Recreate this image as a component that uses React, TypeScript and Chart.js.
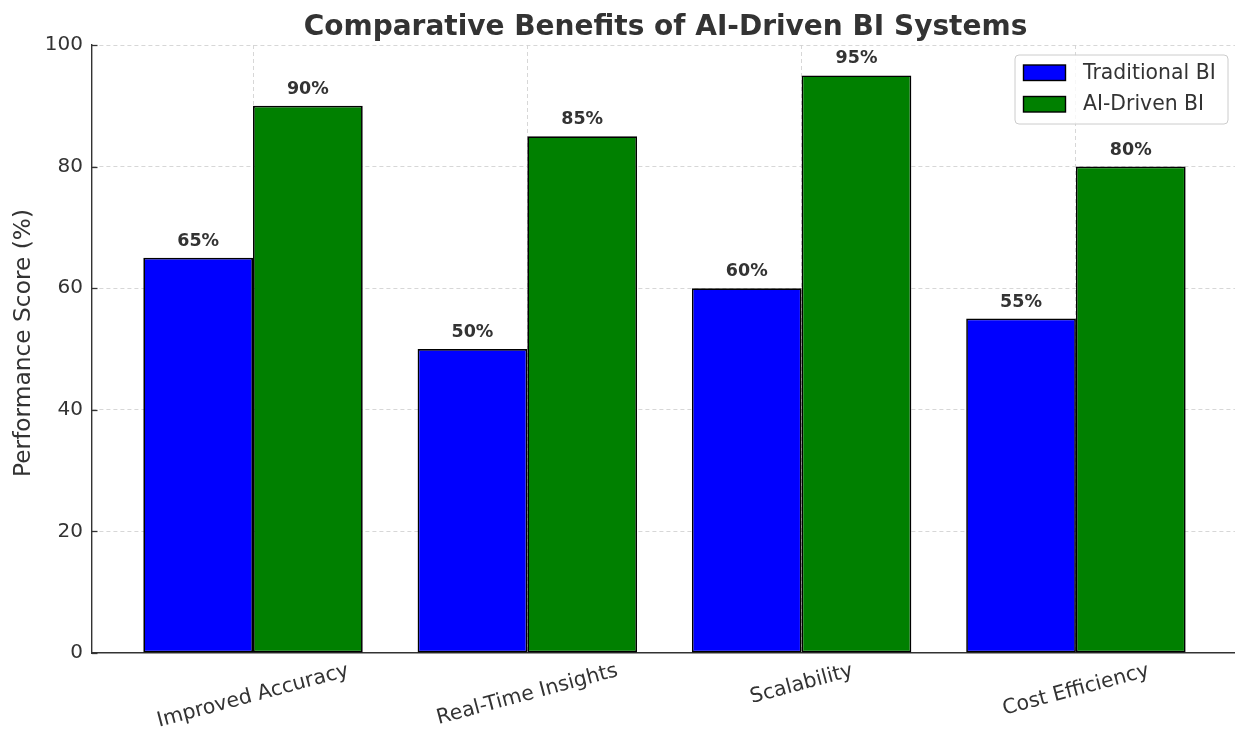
import { useEffect, useRef } from "react";
import { Chart, registerables } from "chart.js";

Chart.register(...registerables);

// Benefit categories and the score of each BI approach (percent)
const categories = ["Improved Accuracy", "Real-Time Insights", "Scalability", "Cost Efficiency"];
const traditionalBI = [65, 50, 60, 55];
const aiDrivenBI = [90, 85, 95, 80];
const yTicks = [0, 20, 40, 60, 80, 100];
const seriesNames = ["Traditional BI", "AI-Driven BI"];
const seriesColors = ["#0000ff", "#008000"];

const chartTitle = "Comparative Benefits of AI-Driven BI Systems";
const yAxisTitle = "Performance Score (%)";

const FONT = "'DejaVu Sans', sans-serif";
const TEXT = "#333333";
const GRID = "#d2d2d2";
const WIDTH = 1235;
const HEIGHT = 729;

const decorations = {
  id: "decorations",
  afterDatasetsDraw(chart: any) {
    const { ctx } = chart;
    ctx.save();
    // value labels above each bar
    ctx.font = `bold 17.5px ${FONT}`;
    ctx.fillStyle = TEXT;
    ctx.textAlign = "center";
    ctx.textBaseline = "alphabetic";
    chart.data.datasets.forEach((ds: any, di: number) => {
      const meta = chart.getDatasetMeta(di);
      meta.data.forEach((el: any, i: number) => {
        const v = ds.data[i].y;
        ctx.fillText(`${v}%`, el.x, el.y - 12);
      });
    });
    ctx.restore();
  },
  afterDraw(chart: any) {
    const { ctx, chartArea, scales } = chart;
    const xs = scales.x;
    const ys = scales.y;
    ctx.save();

    // inward tick marks on the value axis
    ctx.strokeStyle = TEXT;
    ctx.lineWidth = 1.3;
    yTicks.forEach((t) => {
      const py = Math.round(ys.getPixelForValue(t)) + 0.5;
      ctx.beginPath();
      ctx.moveTo(chartArea.left, py);
      ctx.lineTo(chartArea.left + 5.5, py);
      ctx.stroke();
    });

    // title
    ctx.fillStyle = TEXT;
    ctx.font = `bold 28px ${FONT}`;
    ctx.textAlign = "center";
    ctx.textBaseline = "alphabetic";
    ctx.fillText(chartTitle, (chartArea.left + chartArea.right) / 2 + 2, 34.5);

    // value axis title
    ctx.save();
    ctx.font = `23.3px ${FONT}`;
    ctx.translate(24, 343);
    ctx.rotate(-Math.PI / 2);
    ctx.textAlign = "center";
    ctx.textBaseline = "middle";
    ctx.fillText(yAxisTitle, 0, 0);
    ctx.restore();

    // rotated category labels, centred under each category
    ctx.font = `20.5px ${FONT}`;
    const ang = (15 * Math.PI) / 180;
    const lineH = 24;
    categories.forEach((c, i) => {
      const w = ctx.measureText(c).width;
      const H = w * Math.sin(ang) + lineH * Math.cos(ang);
      const cx = xs.getPixelForValue(i);
      const cy = chartArea.bottom + 6 + H / 2;
      ctx.save();
      ctx.translate(cx, cy);
      ctx.rotate(-ang);
      ctx.textAlign = "center";
      ctx.textBaseline = "middle";
      ctx.fillText(c, 0, 0);
      ctx.restore();
    });

    // legend box
    const lx = 1015, ly = 55, lw = 213, lh = 69, r = 4;
    ctx.beginPath();
    ctx.moveTo(lx + r, ly);
    ctx.arcTo(lx + lw, ly, lx + lw, ly + lh, r);
    ctx.arcTo(lx + lw, ly + lh, lx, ly + lh, r);
    ctx.arcTo(lx, ly + lh, lx, ly, r);
    ctx.arcTo(lx, ly, lx + lw, ly, r);
    ctx.closePath();
    ctx.fillStyle = "rgba(255,255,255,0.8)";
    ctx.fill();
    ctx.strokeStyle = "#cccccc";
    ctx.lineWidth = 1;
    ctx.stroke();

    ctx.font = `20.4px ${FONT}`;
    ctx.textAlign = "left";
    ctx.textBaseline = "middle";
    seriesNames.forEach((name, i) => {
      const sy = 65 + i * 31.5;
      ctx.fillStyle = seriesColors[i];
      ctx.fillRect(1023.5, sy, 42, 15.5);
      ctx.strokeStyle = "#000000";
      ctx.lineWidth = 1.4;
      ctx.strokeRect(1023.5, sy, 42, 15.5);
      ctx.fillStyle = TEXT;
      ctx.fillText(name, 1083, sy + 8.5);
    });

    ctx.restore();
  },
};

export default function App() {
  const canvasRef = useRef<HTMLCanvasElement | null>(null);

  useEffect(() => {
    if (!canvasRef.current) return;
    const chart = new Chart(canvasRef.current, {
      type: "bar",
      data: {
        datasets: [traditionalBI, aiDrivenBI].map((vals, di) => ({
          label: seriesNames[di],
          data: vals.map((v, i) => ({ x: i, y: v })),
          backgroundColor: seriesColors[di],
          borderColor: "#000000",
          borderWidth: 1.7,
          borderSkipped: false,
          categoryPercentage: 0.8,
          barPercentage: 1.0,
        })),
      },
      options: {
        animation: false,
        responsive: false,
        devicePixelRatio: 1,
        layout: { padding: { top: 45, left: 0, right: 0, bottom: 0 } },
        plugins: {
          legend: { display: false },
          title: { display: false },
          tooltip: { enabled: false },
        },
        scales: {
          x: {
            type: "linear",
            min: -0.587,
            max: 3.58,
            offset: false,
            afterBuildTicks: (s: any) => {
              s.ticks = categories.map((_, i) => ({ value: i }));
            },
            afterFit: (s: any) => {
              s.height = 76;
            },
            ticks: { display: false },
            grid: { color: GRID, lineWidth: 0.9, drawTicks: false, offset: false },
            border: { display: true, color: TEXT, width: 1.4, dash: [4, 3] },
          },
          y: {
            type: "linear",
            min: 0,
            max: 100,
            afterBuildTicks: (s: any) => {
              s.ticks = yTicks.map((v) => ({ value: v }));
            },
            afterFit: (s: any) => {
              s.width = 92;
            },
            ticks: {
              color: TEXT,
              padding: 9,
              font: { family: FONT, size: 20 },
              callback: (v: any) => String(v),
            },
            grid: {
              color: (c: any) => (c.tick && c.tick.value === 0 ? "rgba(0,0,0,0)" : GRID),
              lineWidth: 0.9,
              drawTicks: false,
            },
            border: { display: true, color: TEXT, width: 1.4, dash: [4, 3] },
          },
        },
      },
      plugins: [decorations],
    } as any);
    return () => chart.destroy();
  }, []);

  return (
    <div style={{ position: "absolute", left: 0, top: 0, width: WIDTH, height: HEIGHT, background: "#ffffff" }}>
      <canvas ref={canvasRef} width={WIDTH} height={HEIGHT} style={{ display: "block" }} />
    </div>
  );
}
